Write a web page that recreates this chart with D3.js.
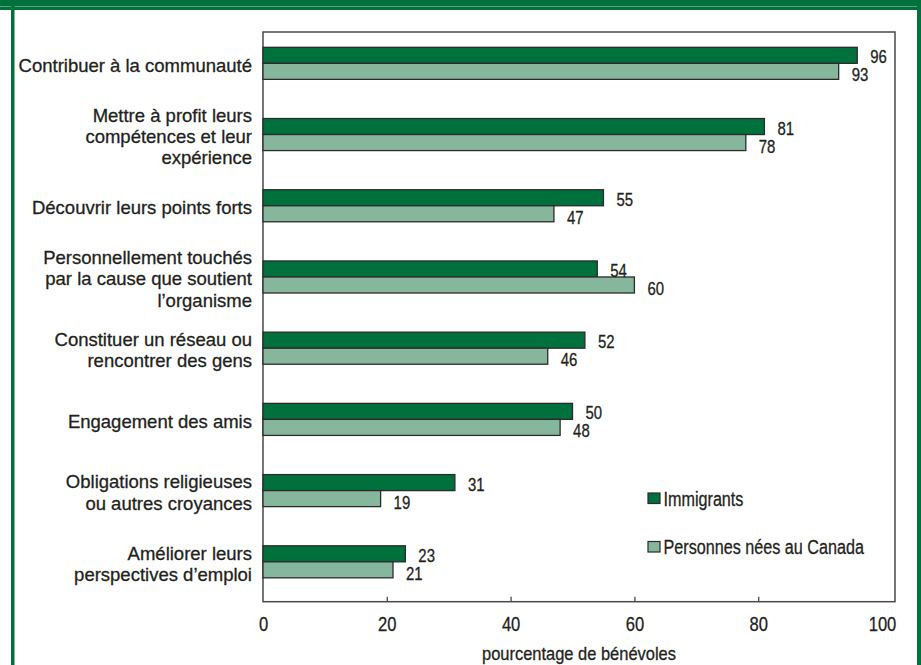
<!DOCTYPE html>
<html lang="fr">
<head>
<meta charset="utf-8">
<script src="https://cdn.jsdelivr.net/npm/d3@7"></script>
<style>
  html, body { margin: 0; padding: 0; background: #fff; }
  svg { display: block; font-family: "Liberation Sans", Arial, sans-serif; }
  text { fill: #231f20; stroke: #231f20; stroke-width: 0.3; }
</style>
</head>
<body>
<script>
// Motifs de bénévolat : immigrants vs personnes nées au Canada (%)
const categories = [
  ["Contribuer à la communauté"],
  ["Mettre à profit leurs", "compétences et leur", "expérience"],
  ["Découvrir leurs points forts"],
  ["Personnellement touchés", "par la cause que soutient", "l’organisme"],
  ["Constituer un réseau ou", "rencontrer des gens"],
  ["Engagement des amis"],
  ["Obligations religieuses", "ou autres croyances"],
  ["Améliorer leurs", "perspectives d’emploi"]
];
const seriesNames = ["Immigrants", "Personnes nées au Canada"];
const immigrants = [96, 81, 55, 54, 52, 50, 31, 23];
const canadiens = [93, 78, 47, 60, 46, 48, 19, 21];
const tickValues = [0, 20, 40, 60, 80, 100];
const axisTitle = "pourcentage de bénévoles";

const W = 921, H = 665;
const dark = "#00703c", light = "#86b79c", green = "#00703c";
const colors = [dark, light];
const seriesValues = [immigrants, canadiens];

// condensed look: horizontally squeezed text anchored at tx
const squeeze = (tx, sx) => `translate(${tx},0) scale(${sx},1)`;

const svg = d3.select("body").append("svg")
  .attr("width", W).attr("height", H);

// page frame: band on top, stripes on the sides
svg.append("rect").attr("x", 0).attr("y", 0).attr("width", W).attr("height", 10).attr("fill", green);
svg.append("line").attr("x1", 0).attr("x2", W).attr("y1", 6.5).attr("y2", 6.5)
  .attr("stroke", "#5d9f7c").attr("stroke-width", 1);
svg.append("rect").attr("x", 11).attr("y", 0).attr("width", 3.5).attr("height", H).attr("fill", green);
svg.append("rect").attr("x", 917).attr("y", 0).attr("width", 4).attr("height", H).attr("fill", green);

const plot = { left: 263, right: 895, top: 32, bottom: 601.7 };

const x = d3.scaleLinear().domain([0, 100]).range([plot.left, 882]);
const keys = d3.range(categories.length);
const y = d3.scaleBand().domain(keys).range([plot.top, plot.bottom]);
const bw = y.bandwidth();
const sub = d3.scaleBand().domain([0, 1]).range([bw * 0.215, bw * 0.215 + bw * 0.45]);

// plot frame
svg.append("rect")
  .attr("x", plot.left).attr("y", plot.top)
  .attr("width", plot.right - plot.left).attr("height", plot.bottom - plot.top)
  .attr("fill", "none").attr("stroke", "#4a4a4a").attr("stroke-width", 1.5);

// bars
const groups = svg.append("g").selectAll("g")
  .data(keys).join("g")
  .attr("transform", i => `translate(0,${y(i)})`);

groups.selectAll("rect")
  .data(i => seriesValues.map((vals, s) => ({ s, v: vals[i] })))
  .join("rect")
  .attr("x", x(0))
  .attr("y", d => sub(d.s))
  .attr("width", d => x(d.v) - x(0))
  .attr("height", sub.bandwidth())
  .attr("fill", d => colors[d.s])
  .attr("stroke", "#2b2b2b").attr("stroke-width", 1.3);

// value labels
groups.selectAll("text.val")
  .data(i => seriesValues.map((vals, s) => ({ s, v: vals[i] })))
  .join("text").attr("class", "val")
  .attr("transform", d => squeeze(x(d.v) + 13, 0.83))
  .attr("y", d => sub(d.s) + sub.bandwidth() / 2 + (d.s === 0 ? 8 : 10))
  .attr("font-size", 18)
  .text(d => d.v);

// category labels
const pairMid = bw * 0.215 + bw * 0.225;
const lineGap = 21.3;
groups.append("text")
  .attr("text-anchor", "end")
  .attr("font-size", 18.5)
  .selectAll("tspan")
  .data(i => categories[i].map((line, k, arr) => ({ line, k, n: arr.length })))
  .join("tspan")
  .attr("x", 252)
  .attr("y", d => pairMid + 8.5 + (d.k - (d.n - 1) / 2) * lineGap)
  .text(d => d.line);

// x axis
const axis = d3.axisBottom(x)
  .tickValues(tickValues)
  .tickFormat(d3.format("d"))
  .tickSizeInner(-5).tickSizeOuter(0).tickPadding(14);
const gx = svg.append("g")
  .attr("transform", `translate(0,${plot.bottom})`)
  .call(axis);
gx.select(".domain").remove();
gx.selectAll(".tick line")
  .attr("stroke", "#4a4a4a").attr("stroke-width", 1.3)
  .attr("display", d => (d === 0 || d === 100) ? "none" : null);
gx.selectAll(".tick text")
  .attr("fill", "#231f20")
  .attr("font-size", 21)
  .attr("transform", "scale(0.79,1)");
gx.attr("font-family", null);

svg.append("text")
  .attr("transform", squeeze((plot.left + plot.right) / 2, 0.89))
  .attr("y", 660)
  .attr("text-anchor", "middle")
  .attr("font-size", 18.5)
  .text(axisTitle);

// legend
const legend = svg.append("g").attr("transform", "translate(648,493)");
const items = legend.selectAll("g").data(seriesNames).join("g")
  .attr("transform", (d, i) => `translate(0,${i * 48.5})`);
items.append("rect")
  .attr("width", 12).attr("height", 10.5)
  .attr("fill", (d, i) => colors[i])
  .attr("stroke", "#2b2b2b").attr("stroke-width", 1.2);
items.append("text")
  .attr("transform", squeeze(15.5, 0.77))
  .attr("y", 12.5)
  .attr("font-size", 21)
  .text(d => d);
</script>
</body>
</html>
